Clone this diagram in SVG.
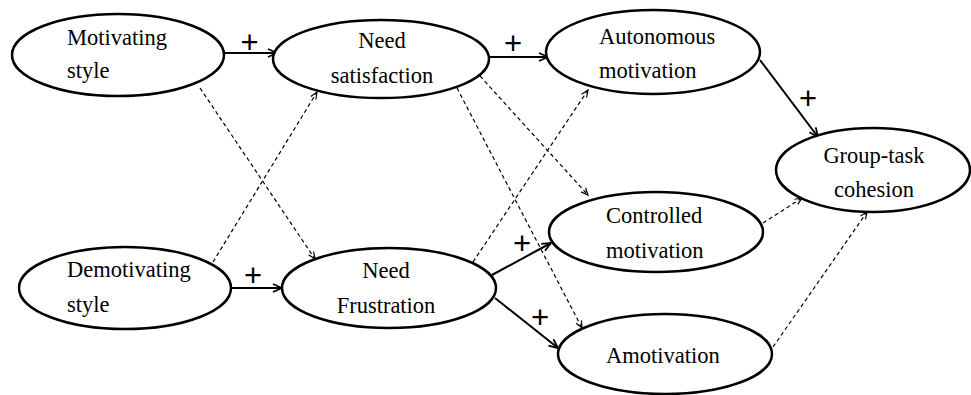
<svg xmlns="http://www.w3.org/2000/svg" width="971" height="395" viewBox="0 0 971 395">
<defs>
<style>
.node ellipse{fill:#fff;stroke:#000;stroke-width:2.5}
.node text{font-family:"Liberation Serif","Times New Roman",serif;font-size:22.5px;fill:#000}
.solid{stroke:#000;stroke-width:2;fill:none}
.dash{stroke:#000;stroke-width:1.2;fill:none;stroke-dasharray:4 3}
.plus{font-family:"Liberation Sans",Arial,sans-serif;font-size:31px;text-anchor:middle;fill:#000}
</style>
<marker id="ah" markerWidth="12" markerHeight="12" refX="10" refY="5" orient="auto" markerUnits="userSpaceOnUse">
<path d="M1,1 L10,5 L1,9" fill="none" stroke="#000" stroke-width="1.8"/>
</marker>
<marker id="ahd" markerWidth="10" markerHeight="10" refX="8" refY="4" orient="auto" markerUnits="userSpaceOnUse">
<path d="M1,1 L8,4 L1,7" fill="none" stroke="#000" stroke-width="1.2"/>
</marker>
</defs>
<rect width="971" height="395" fill="#fff"/>
<g id="connectors">
<line class="solid" x1="223" y1="53" x2="277" y2="53" marker-end="url(#ah)"/>
<line class="solid" x1="490" y1="57" x2="548" y2="57" marker-end="url(#ah)"/>
<line class="solid" x1="760" y1="60" x2="818" y2="137" marker-end="url(#ah)"/>
<line class="solid" x1="231" y1="288" x2="282" y2="288" marker-end="url(#ah)"/>
<line class="solid" x1="492" y1="275" x2="551" y2="243" marker-end="url(#ah)"/>
<line class="solid" x1="495" y1="298" x2="558" y2="348" marker-end="url(#ah)"/>
<line class="dash" x1="200" y1="88" x2="315" y2="259" marker-end="url(#ahd)"/>
<line class="dash" x1="213" y1="262" x2="317" y2="92" marker-end="url(#ahd)"/>
<line class="dash" x1="480" y1="76" x2="588" y2="195" marker-end="url(#ahd)"/>
<line class="dash" x1="457" y1="88" x2="582" y2="328" marker-end="url(#ahd)"/>
<line class="dash" x1="473" y1="262" x2="588" y2="90" marker-end="url(#ahd)"/>
<line class="dash" x1="763" y1="223" x2="802" y2="198" marker-end="url(#ahd)"/>
<line class="dash" x1="773" y1="347" x2="867" y2="212" marker-end="url(#ahd)"/>
<text class="plus" x="249.5" y="53">+</text>
<text class="plus" x="513" y="54">+</text>
<text class="plus" x="808" y="109">+</text>
<text class="plus" x="253" y="286">+</text>
<text class="plus" x="522" y="254">+</text>
<text class="plus" x="540" y="328">+</text>
</g>
<g id="motivating" class="node">
<ellipse cx="118" cy="55" rx="106" ry="41"/>
<text x="67" y="45">Motivating</text>
<text x="67" y="78">style</text>
</g>
<g id="need-satisfaction" class="node">
<ellipse cx="381" cy="59" rx="108" ry="39"/>
<text x="382" y="48" text-anchor="middle">Need</text>
<text x="382" y="83" text-anchor="middle">satisfaction</text>
</g>
<g id="autonomous" class="node">
<ellipse cx="653" cy="52" rx="107" ry="42"/>
<text x="599" y="44">Autonomous</text>
<text x="599" y="78">motivation</text>
</g>
<g id="group-task" class="node">
<ellipse cx="873" cy="170" rx="97" ry="42"/>
<text x="874" y="163" text-anchor="middle">Group-task</text>
<text x="874" y="197" text-anchor="middle">cohesion</text>
</g>
<g id="controlled" class="node">
<ellipse cx="656" cy="232" rx="107" ry="40"/>
<text x="606" y="223">Controlled</text>
<text x="606" y="258">motivation</text>
</g>
<g id="amotivation" class="node">
<ellipse cx="665" cy="354" rx="107" ry="40"/>
<text x="606" y="363">Amotivation</text>
</g>
<g id="demotivating" class="node">
<ellipse cx="125" cy="288" rx="106" ry="41"/>
<text x="67" y="277">Demotivating</text>
<text x="67" y="312">style</text>
</g>
<g id="need-frustration" class="node">
<ellipse cx="389" cy="288" rx="107" ry="40"/>
<text x="386" y="278" text-anchor="middle">Need</text>
<text x="386" y="313" text-anchor="middle">Frustration</text>
</g>
</svg>
